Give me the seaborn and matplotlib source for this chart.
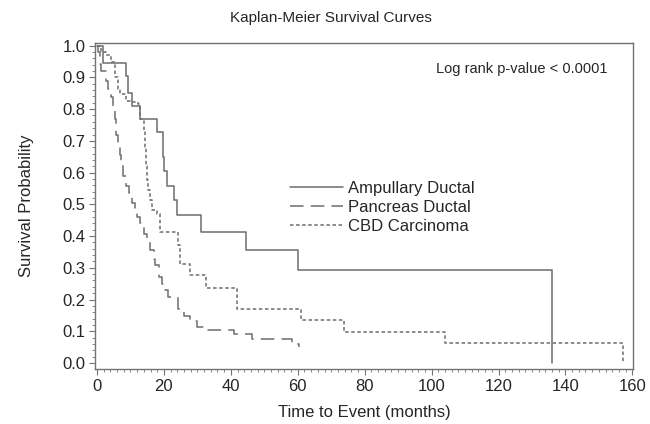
import numpy as np
import pandas as pd
import matplotlib
matplotlib.use("Agg")
import matplotlib.pyplot as plt
from matplotlib.ticker import MultipleLocator, FormatStrFormatter
import seaborn as sns

# ---- data ----
groups = ["Ampullary Ductal", "Pancreas Ductal", "CBD Carcinoma"]

amp_t = [0, 1.8, 8.8, 9.4, 10.4, 12.9, 17.9, 19.7, 20.1, 20.9, 22.9, 23.9, 31.1, 44.4, 60.1, 136.0]
amp_s = [1.0, 0.946, 0.906, 0.85, 0.81, 0.77, 0.727, 0.65, 0.604, 0.557, 0.514, 0.467, 0.414, 0.356, 0.292, 0.0]

pan_t = [0, 0.3, 1.0, 1.3, 2.8, 3.3, 4.3, 4.8, 5.3, 5.8, 6.3, 6.8, 7.3, 7.8, 8.8, 9.6, 10.6, 11.3,
         11.9, 12.9, 13.9, 14.9, 15.9, 16.9, 17.4, 18.4, 19.4, 20.4, 21.1, 24.1, 25.9, 27.9, 29.9,
         32.4, 41.0, 46.4, 58.4, 60.4]
pan_s = [1.0, 0.98, 0.943, 0.92, 0.89, 0.863, 0.837, 0.81, 0.768, 0.72, 0.689, 0.657, 0.625, 0.588,
         0.557, 0.535, 0.503, 0.477, 0.461, 0.44, 0.408, 0.382, 0.356, 0.329, 0.308, 0.271, 0.25,
         0.229, 0.207, 0.17, 0.149, 0.133, 0.112, 0.105, 0.091, 0.075, 0.059, 0.05]

cbd_t = [0, 1.3, 2.8, 4.3, 5.3, 6.3, 6.8, 8.8, 9.9, 12.4, 12.9, 13.9, 14.4, 14.6, 14.8, 15.3, 15.9,
         16.4, 17.9, 18.9, 24.1, 24.9, 27.9, 32.7, 41.9, 60.9, 73.9, 103.9, 157.2]
cbd_s = [1.0, 0.98, 0.97, 0.948, 0.90, 0.863, 0.848, 0.826, 0.821, 0.816, 0.768, 0.731, 0.68, 0.62,
         0.578, 0.546, 0.514, 0.483, 0.47, 0.414, 0.371, 0.313, 0.276, 0.237, 0.17, 0.135, 0.099,
         0.064, 0.0]

x_ticks = list(range(0, 161, 20))
y_ticks = [0.0, 0.1, 0.2, 0.3, 0.4, 0.5, 0.6, 0.7, 0.8, 0.9, 1.0]

title = "Kaplan-Meier Survival Curves"
x_label = "Time to Event (months)"
y_label = "Survival Probability"
annot = "Log rank p-value < 0.0001"

# ---- build long table ----
frames = []
for g, t, s in zip(groups, [amp_t, pan_t, cbd_t], [amp_s, pan_s, cbd_s]):
    frames.append(pd.DataFrame({"time": t, "surv": s, "group": g}))
df = pd.concat(frames, ignore_index=True)

sns.set_theme(style="white")
plt.rcParams["font.family"] = ["Liberation Sans", "DejaVu Sans"]

GRAY = "#727272"
TXT = "#262626"
LW = 1.15

fig = plt.figure(figsize=(6.5, 4.24), dpi=100)
ax = fig.add_axes([95 / 650, 1 - 369 / 424, (633 - 95) / 650, (369 - 43) / 424])

dashes = {"Ampullary Ductal": "", "Pancreas Ductal": (8.5, 4.5), "CBD Carcinoma": (2.2, 1.6)}
sns.lineplot(data=df, x="time", y="surv", style="group", style_order=groups, dashes=dashes,
             color=GRAY, linewidth=LW, drawstyle="steps-post", estimator=None, sort=False,
             ax=ax)

leg = ax.get_legend()
handles = list(leg.legend_handles)
labels = [t.get_text() for t in leg.get_texts()]
leg.remove()
for h in handles:
    h.set_color(GRAY)
    h.set_linewidth(LW)
ax.legend(handles, labels, loc="upper left", bbox_to_anchor=(290 / 650, 1 - 181 / 424),
          bbox_transform=fig.transFigure, frameon=False, borderpad=0, borderaxespad=0,
          handlelength=3.2, handletextpad=0.3, labelspacing=0.25, fontsize=12,
          labelcolor=TXT)

ax.set_xlim(-0.6, 160.2)
ax.set_ylim(-0.019, 1.0085)
ax.set_xticks(x_ticks)
ax.set_yticks(y_ticks)
ax.yaxis.set_major_formatter(FormatStrFormatter("%.1f"))
ax.xaxis.set_minor_locator(MultipleLocator(2))
ax.yaxis.set_minor_locator(MultipleLocator(0.02))
ax.tick_params(axis="both", which="major", direction="out", length=4, width=0.8,
               color=GRAY, labelsize=12, labelcolor=TXT, pad=3, bottom=True, left=True)
ax.tick_params(axis="both", which="minor", direction="out", length=2, width=0.6,
               color=GRAY, bottom=True, left=True)
for sp in ax.spines.values():
    sp.set_color(GRAY)
    sp.set_linewidth(1.0)

ax.set_xlabel(x_label, fontsize=12, color=TXT, labelpad=8)
ax.set_ylabel(y_label, fontsize=12, color=TXT, labelpad=20)
fig.text(331 / 650, 1 - 18 / 424, title, ha="center", va="center", fontsize=11, color=TXT)
ax.text(608 / 650, 1 - 69 / 424, annot, transform=fig.transFigure, ha="right", va="center",
        fontsize=10.5, color=TXT)

fig.savefig("out.png", dpi=100)
